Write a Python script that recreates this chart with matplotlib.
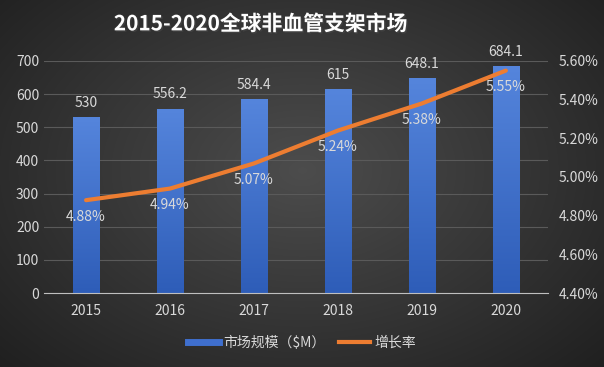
import numpy as np
import matplotlib.pyplot as plt
import matplotlib as mpl
from matplotlib.ticker import FuncFormatter
import matplotlib.patheffects as pe

plt.rcParams['font.family'] = ['Noto Sans CJK SC', 'DejaVu Sans']

years = ['2015', '2016', '2017', '2018', '2019', '2020']
market = [530, 556.2, 584.4, 615, 648.1, 684.1]
growth = [4.88, 4.94, 5.07, 5.24, 5.38, 5.55]
market_labels = ['530', '556.2', '584.4', '615', '648.1', '684.1']

txt = '#d9d9d9'
orange = '#ED7D31'

fig = plt.figure(figsize=(6.04, 3.67), dpi=100)

# radial background
bg = fig.add_axes([0, 0, 1, 1])
yy, xx = np.mgrid[0:367, 0:604]
r = np.sqrt(((xx - 302) / 380.0) ** 2 + ((yy - 170) / 260.0) ** 2)
shade = np.clip(0.30 - 0.16 * r, 0.12, 0.30)
bg.imshow(np.dstack([shade, shade, shade]), aspect='auto', extent=[0, 1, 0, 1])
bg.axis('off')

ax = fig.add_axes([0.073, 0.2016, 0.834, 0.6324])
ax.patch.set_alpha(0)
x = np.arange(len(years))
bars = ax.bar(x, market, width=0.31, color='#3F6FCE', zorder=2)

# vertical gradient inside the bars
grad = np.linspace(0, 1, 256).reshape(-1, 1)
cmap = mpl.colors.LinearSegmentedColormap.from_list('b', ['#2E5DB8', '#5585DC'])
for b in bars:
    im = ax.imshow(grad, cmap=cmap, origin='lower', aspect='auto', zorder=2,
                   extent=[b.get_x(), b.get_x() + b.get_width(), 0, b.get_height()])
    im.set_clip_path(b)

for xi, v, lab in zip(x, market, market_labels):
    ax.text(xi, v + 22, lab, ha='center', va='bottom', color=txt, fontsize=10)

ax.set_xlim(-0.5, 5.5)
ax.set_ylim(0, 700)
ax.set_yticks(range(0, 701, 100))
ax.set_xticks(x)
ax.set_xticklabels(years)
ax.grid(axis='y', color='#5a5a5a', linewidth=0.8, zorder=0)
for s in ['top', 'right', 'left']:
    ax.spines[s].set_visible(False)
ax.spines['bottom'].set_color('#bfbfbf')
ax.tick_params(length=0, colors=txt, labelsize=10)
ax.tick_params(axis='x', pad=8)

ax2 = ax.twinx()
ax2.plot(x, growth, color=orange, linewidth=3, solid_capstyle='round', zorder=5)
ax2.set_ylim(4.4, 5.6)
ax2.set_yticks(np.arange(4.4, 5.61, 0.2))
ax2.yaxis.set_major_formatter(FuncFormatter(lambda v, p: f'{v:.2f}%'))
ax2.tick_params(length=0, colors=txt, labelsize=10, pad=8)
for s in ax2.spines.values():
    s.set_visible(False)
for xi, g in zip(x, growth):
    ax2.text(xi, g - 0.085, f'{g:.2f}%', ha='center', va='center', color=txt, fontsize=10)

fig.text(0.432, 0.935, '2015-2020全球非血管支架市场', ha='center', va='center',
         color='white', fontsize=15, fontweight='bold',
         path_effects=[pe.withSimplePatchShadow(offset=(1, -1), alpha=0.5)])

h1 = mpl.lines.Line2D([], [], color='#3F6FCE', linewidth=5)
h2 = mpl.lines.Line2D([], [], color=orange, linewidth=3)
leg = fig.legend([h1, h2], ['市场规模（$M）', '增长率'], loc='center', bbox_to_anchor=(0.5, 0.065),
                 ncol=2, frameon=False, fontsize=10, handlelength=2.2, columnspacing=1.0,
                 handletextpad=0.3)
for t in leg.get_texts():
    t.set_color(txt)

fig.savefig('out.png', dpi=100)
